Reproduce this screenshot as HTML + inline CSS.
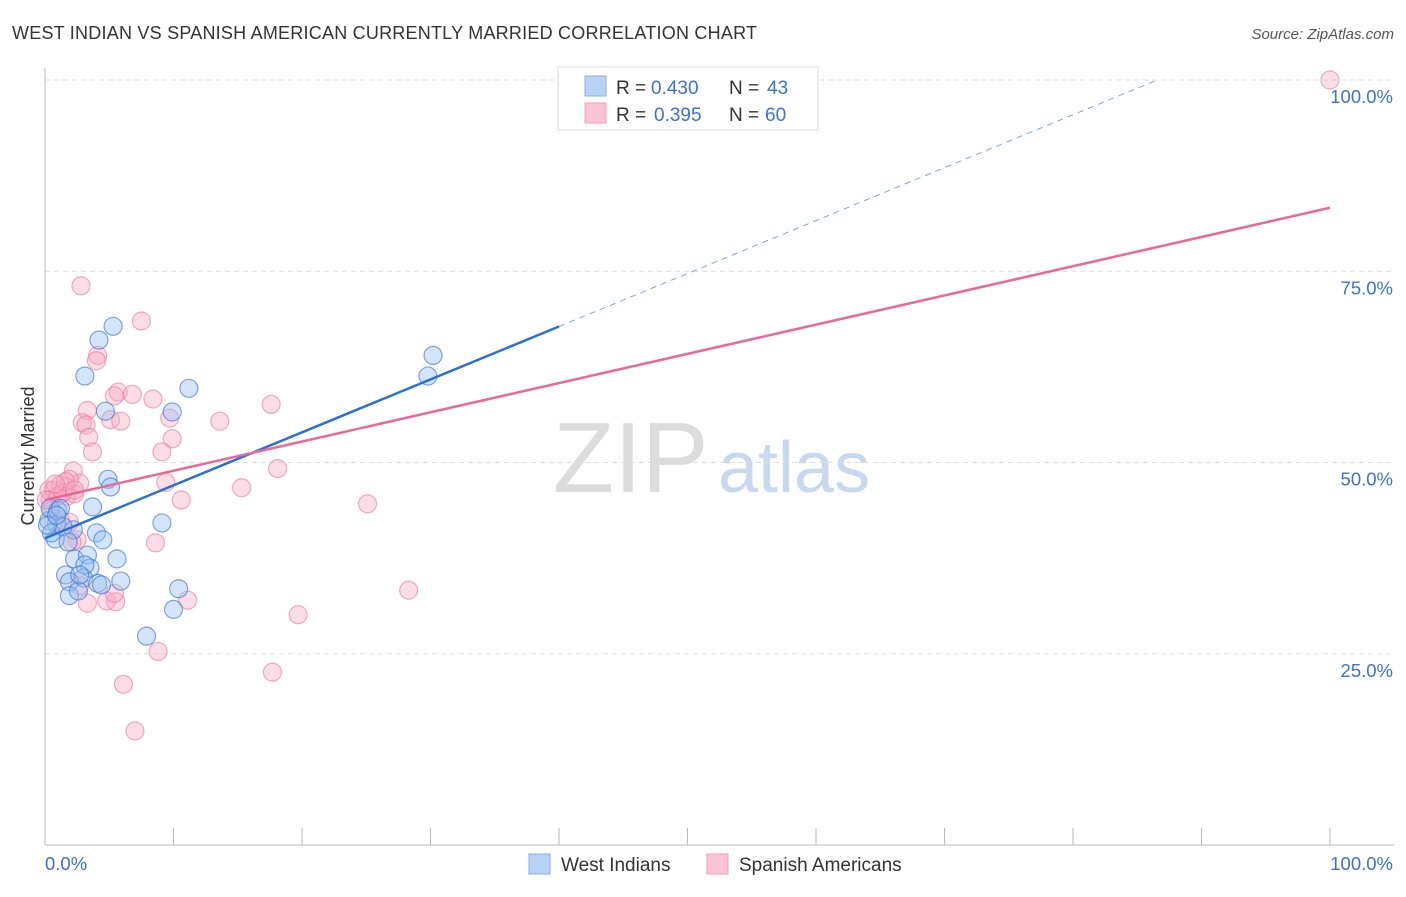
<!DOCTYPE html>
<html><head><meta charset="utf-8"><style>
body{margin:0;background:#fff;font-family:"Liberation Sans",sans-serif}
svg text{font-family:"Liberation Sans",sans-serif}
</style></head><body>
<svg id="c" width="1406" height="892" xmlns="http://www.w3.org/2000/svg">
<text x="12" y="39" font-size="18" fill="#333" textLength="745">WEST INDIAN VS SPANISH AMERICAN CURRENTLY MARRIED CORRELATION CHART</text>
<text x="1394" y="39" font-size="15" fill="#555" font-style="italic" text-anchor="end">Source: ZipAtlas.com</text>
<text x="553" y="492" font-size="100" fill="#dcdcdc" font-family="Liberation Serif">ZIP</text>
<text x="718" y="492" font-size="72" fill="#c8d8ef">atlas</text>
<text transform="translate(34,456) rotate(-90)" font-size="18" fill="#333" text-anchor="middle">Currently Married</text>
<g id="grid"></g><g id="axes"></g><g id="pts"></g><g id="lines"></g>
<g>
<rect x="558" y="67" width="260" height="63" fill="#fff" stroke="#ddd"/>
<rect x="585" y="76" width="21" height="20" fill="#b8d2f6" stroke="#8ab0e8"/>
<rect x="585" y="103" width="21" height="20" fill="#fcc5d5" stroke="#f0a0b8"/>
<text x="616" y="94" font-size="19" fill="#333">R =</text><text x="651" y="94" font-size="19" fill="#3b72d1">0.430</text>
<text x="729" y="94" font-size="19" fill="#333">N =</text><text x="767" y="94" font-size="19" fill="#3b72d1">43</text>
<text x="616" y="121" font-size="19" fill="#333">R =</text><text x="654" y="121" font-size="19" fill="#3b72d1">0.395</text>
<text x="729" y="121" font-size="19" fill="#333">N =</text><text x="765" y="121" font-size="19" fill="#3b72d1">60</text>
</g>
<g>
<rect x="529" y="854" width="21" height="20" fill="#b8d2f6" stroke="#8ab0e8"/>
<text x="561" y="871" font-size="19" fill="#333">West Indians</text>
<rect x="707" y="854" width="21" height="20" fill="#fcc5d5" stroke="#f0a0b8"/>
<text x="739" y="871" font-size="19" fill="#333">Spanish Americans</text>
</g>
</svg>
<script>
const yTicks=[25,50,75,100];
const xTickLabels=["0.0%","100.0%"];
const blueX=[5.3,4.2,3.1,11.2,9.9,4.7,4.9,5.1,3.7,9.1,4.0,4.5,0.9,0.3,0.8,0.4,1.0,2.2,2.3,3.3,5.6,1.6,3.5,3.0,4.1,5.9,1.9,1.9,2.6,4.4,10.4,10.0,7.9,30.2,29.8,1.2,0.5,1.4,3.1,2.7,1.8,0.2,0.9];
const blueY=[67.8,66.0,61.3,59.7,56.6,56.7,47.8,46.8,44.2,42.1,40.8,39.9,42.0,42.4,40.0,44.0,43.7,41.2,37.4,37.9,37.4,35.3,36.2,34.9,34.2,34.5,34.4,32.6,33.2,34.0,33.5,30.8,27.3,64.0,61.3,44.0,40.8,41.6,36.6,35.3,39.6,41.8,43.1];
const pinkX=[100,2.8,7.5,4.1,4.0,5.7,6.8,5.4,8.4,17.6,3.3,2.9,5.1,5.9,3.2,3.4,9.7,9.9,13.6,3.7,9.1,2.2,9.4,18.1,15.3,10.6,25.1,1.6,0.3,0.7,1.2,1.7,2.3,2.7,0.5,1.2,1.9,2.5,2.1,2.7,3.3,4.8,5.5,5.4,8.6,11.1,19.7,28.3,8.8,17.7,6.1,7.0,0.4,0.1,1.0,1.4,1.9,1.6,0.8,2.3];
const pinkY=[100,73.1,68.5,64.0,63.3,59.2,58.9,58.7,58.3,57.6,56.8,55.2,55.6,55.4,54.9,53.3,55.8,53.1,55.4,51.4,51.4,48.9,47.4,49.2,46.7,45.1,44.6,46.8,46.4,46.4,47.1,45.6,45.9,47.3,43.8,42.5,42.2,39.9,39.6,33.9,31.6,31.9,31.8,32.9,39.5,32.0,30.1,33.3,25.3,22.6,21.0,14.9,45.1,45.1,45.6,46.1,47.8,47.5,47.2,46.4];
const blueFit=[40.1,69.2], pinkFit=[45.1,38.2];
const X=v=>45+v*12.85, Y=v=>845-v*7.65;
const NS="http://www.w3.org/2000/svg";
function mk(t,a,p){const e=document.createElementNS(NS,t);for(const k in a)e.setAttribute(k,a[k]);p.appendChild(e);return e;}
const grid=document.getElementById('grid'),axes=document.getElementById('axes'),pts=document.getElementById('pts'),lines=document.getElementById('lines');
yTicks.forEach(t=>{
 const l=mk('line',{x1:45,x2:1394,y1:Y(t),y2:Y(t),stroke:'#ddd','stroke-dasharray':'5,4'},grid);
 
 
 const tx=mk('text',{x:1393,y:Y(t)+23,'font-size':18.5,fill:'#3b72d1','text-anchor':'end'},grid);
 tx.textContent=t.toFixed(1)+'%';
 
 
});
const ax=mk('line',{x1:45,x2:1394,y1:845,y2:845,stroke:'#bbb'},axes);


const ay=mk('line',{x1:45,x2:45,y1:68,y2:845,stroke:'#bbb'},axes);


for(let i=0;i<=10;i++){const t=mk('line',{x1:X(i*10),x2:X(i*10),y1:828,y2:845,stroke:'#bbb'},axes);
 
 }
const xl0=mk('text',{x:45,y:870,'font-size':18.5,fill:'#3b72d1'},axes);xl0.textContent=xTickLabels[0];


const xl1=mk('text',{x:1393,y:870,'font-size':18.5,fill:'#3b72d1','text-anchor':'end'},axes);xl1.textContent=xTickLabels[1];


pinkX.forEach((v,i)=>{const c=mk('circle',{cx:X(v),cy:Y(pinkY[i]),r:9,fill:'rgba(248,170,195,0.4)',stroke:'rgba(232,120,155,0.6)','stroke-width':1.2},pts);
 
 });
blueX.forEach((v,i)=>{const c=mk('circle',{cx:X(v),cy:Y(blueY[i]),r:9,fill:'rgba(150,190,240,0.4)',stroke:'rgba(60,120,210,0.65)','stroke-width':1.2},pts);
 
 });
const bEnd=40, bMax=(100-blueFit[0])/blueFit[1]*100;
const b1=mk('line',{x1:X(0),y1:Y(blueFit[0]),x2:X(bEnd),y2:Y(blueFit[0]+blueFit[1]*bEnd/100),stroke:'#2a6fd6','stroke-width':2.5},lines);


const b2=mk('line',{x1:X(bEnd),y1:Y(blueFit[0]+blueFit[1]*bEnd/100),x2:X(bMax),y2:Y(100),stroke:'#7aa6e6','stroke-width':1,'stroke-dasharray':'6,5'},lines);


const p1=mk('line',{x1:X(0),y1:Y(pinkFit[0]),x2:X(100),y2:Y(pinkFit[0]+pinkFit[1]),stroke:'#e8689a','stroke-width':2.5},lines);


</script>
</body></html>
